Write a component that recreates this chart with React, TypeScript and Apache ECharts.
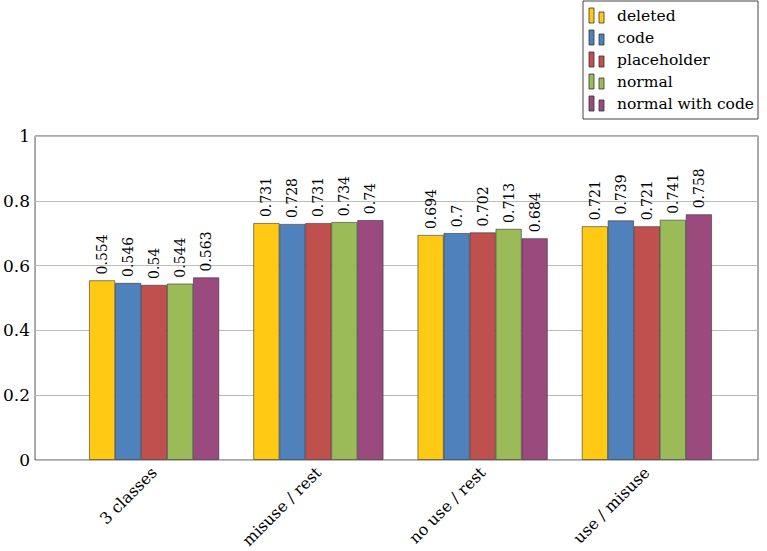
import React, { useEffect, useRef } from "react";
import * as echarts from "echarts";

const categories = ["3 classes", "misuse / rest", "no use / rest", "use / misuse"];
const seriesNames = ["deleted", "code", "placeholder", "normal", "normal with code"];
const colors = ["#FFC914", "#4F81BD", "#C0504D", "#9BBB59", "#9B4A80"];
const deleted = [0.554, 0.731, 0.694, 0.721];
const code = [0.546, 0.728, 0.7, 0.739];
const placeholder = [0.54, 0.731, 0.702, 0.721];
const normal = [0.544, 0.734, 0.713, 0.741];
const normalWithCode = [0.563, 0.74, 0.684, 0.758];
const seriesValues = [deleted, code, placeholder, normal, normalWithCode];
const yTicks = [0, 0.2, 0.4, 0.6, 0.8, 1];

const FONT = "DejaVu Serif";

export default function App() {
  const ref = useRef<HTMLDivElement>(null);
  useEffect(() => {
    if (!ref.current) return;
    const chart = echarts.init(ref.current, null, { renderer: "svg" });
    const legendLeft = 583;
    const legendTop = 1;
    const rowH = 22;
    const legendItems: any[] = [];
    seriesNames.forEach((name, i) => {
      const cy = legendTop + 15 + i * rowH;
      legendItems.push({
        type: "rect",
        z: 20,
        shape: { x: legendLeft + 6, y: cy - 8, width: 5, height: 15 },
        style: { fill: colors[i], stroke: "#333", lineWidth: 0.8 },
      });
      legendItems.push({
        type: "rect",
        z: 20,
        shape: { x: legendLeft + 16, y: cy - 4, width: 5, height: 11 },
        style: { fill: colors[i], stroke: "#333", lineWidth: 0.8 },
      });
      legendItems.push({
        type: "text",
        z: 20,
        x: legendLeft + 34,
        y: cy,
        style: {
          text: name,
          fill: "#000",
          fontFamily: FONT,
          fontSize: 15.5,
          verticalAlign: "middle",
          align: "left",
        },
      });
    });
    const option: any = {
      animation: false,
      backgroundColor: "#fff",
      grid: [
        { left: 33, top: 136, width: 725, height: 324, show: true, borderColor: "#555", borderWidth: 1, backgroundColor: "transparent" },
        { left: 72, top: 136, width: 657, height: 324 },
      ],
      xAxis: [
        { type: "value", gridIndex: 0, show: false, min: 0, max: 1 },
        {
          type: "category",
          gridIndex: 1,
          data: categories,
          axisLine: { show: false },
          axisTick: { show: false },
          axisLabel: {
            rotate: 45,
            margin: 10,
            color: "#000",
            fontFamily: FONT,
            fontSize: 16,
            interval: 0,
          },
        },
      ],
      yAxis: [
        {
          type: "value",
          gridIndex: 0,
          min: 0,
          max: 1,
          interval: 0.2,
          axisLine: { show: false },
          axisTick: { show: false },
          splitLine: { show: true, lineStyle: { color: "#bbb", width: 1 } },
          axisLabel: {
            color: "#000",
            fontFamily: FONT,
            fontSize: 17,
            margin: 5,
            formatter: (v: number) => (yTicks.includes(Number(v.toFixed(1))) ? String(Number(v.toFixed(1))) : ""),
          },
        },
        { type: "value", gridIndex: 1, min: 0, max: 1, show: false },
      ],
      series: seriesNames.map((name, i) => ({
        name,
        type: "bar",
        xAxisIndex: 1,
        yAxisIndex: 1,
        data: seriesValues[i],
        barWidth: 26,
        barGap: "0%",
        itemStyle: { color: colors[i], borderColor: "#333", borderWidth: 0.6 },
        label: {
          show: true,
          position: "top",
          rotate: 90,
          align: "left",
          verticalAlign: "middle",
          distance: 6,
          color: "#000",
          fontFamily: FONT,
          fontSize: 14,
          formatter: (p: any) => String(p.value),
        },
      })),
      graphic: [
        {
          type: "rect",
          z: 10,
          shape: { x: legendLeft, y: legendTop, width: 175, height: 118 },
          style: { fill: "#fff", stroke: "#444", lineWidth: 1 },
        },
        ...legendItems,
      ],
    };
    chart.setOption(option);
    return () => chart.dispose();
  }, []);
  return (
    <div style={{ position: "absolute", left: 0, top: 0, width: 767, height: 551 }}>
      <div ref={ref} style={{ width: 767, height: 551 }} />
    </div>
  );
}
